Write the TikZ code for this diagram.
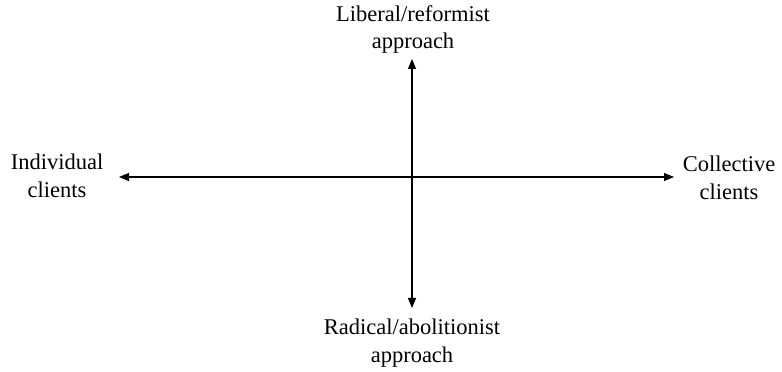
\documentclass[tikz,border=0pt]{standalone}
\usepackage{fontspec}
\setmainfont{Liberation Serif}
\usetikzlibrary{arrows.meta}
\begin{document}
\begin{tikzpicture}[x=1pt,y=1pt,
  lbl/.style={align=center,inner sep=0pt,font=\fontsize{22.5}{27.5}\selectfont},
  axis/.style={line width=1.1pt,{Triangle[length=10pt,width=8pt]}-{Triangle[length=10pt,width=8pt]}}]
\useasboundingbox (0,0) rectangle (782,372);
\node[lbl] (top) at (413,342.5) {Liberal/reformist\\approach};
\node[lbl] (bot) at (412,29) {Radical/abolitionist\\approach};
\node[lbl] (left) at (57,196) {Individual\\clients};
\node[lbl] (right) at (729,194) {Collective\\clients};
\coordinate (l) at (119,195);
\coordinate (r) at (674,195);
\coordinate (t) at (412,313);
\coordinate (b) at (412,64);
\draw[axis] (l) -- (r);
\draw[axis] (t) -- (b);
\end{tikzpicture}
\end{document}
